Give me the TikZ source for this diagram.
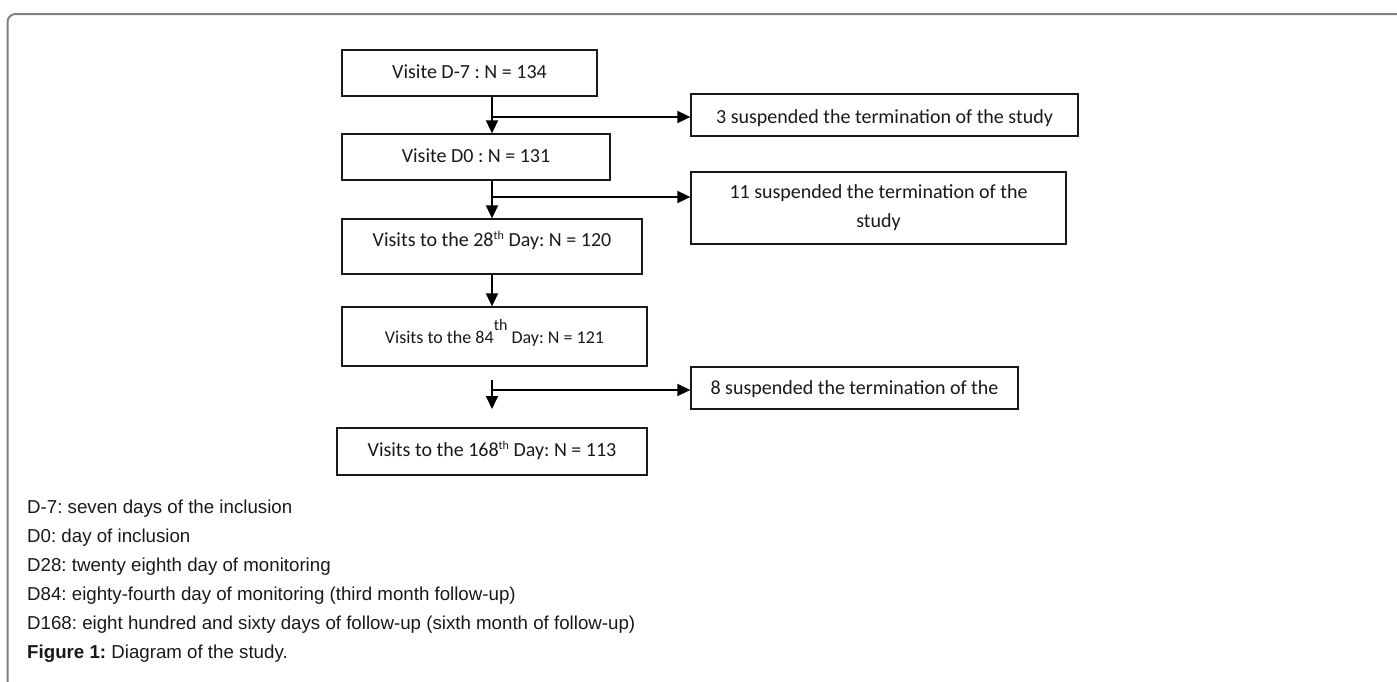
\documentclass[tikz,border=0pt]{standalone}
\usepackage{fontspec}
\setmainfont{Carlito}
\newfontfamily\legendfont{Liberation Sans}
\usetikzlibrary{arrows.meta}
\frenchspacing
\tikzset{
  box/.style={draw=black!90, line width=1.3pt, inner sep=0pt, align=center,
    font=\fontsize{20}{29}\selectfont, text=black!90, text height=14pt, text depth=4pt},
  arr/.style={draw=black, line width=1.7pt, -{Triangle[length=13pt,width=12pt]}},
  legend/.style={anchor=base west, inner sep=0pt, font=\legendfont\fontsize{18.7}{18.7}\selectfont, text=black!90},
  frame/.style={draw=black!50, line width=2pt, rounded corners=8pt}
}
\begin{document}
\begin{tikzpicture}[x=1pt,y=-1pt]
\useasboundingbox (0,0) rectangle (1397,681);
\draw[frame] (7.5,690) -- (7.5,14) -- (1400,14);

% main column boxes
\node[box, minimum width=255pt, minimum height=46pt] (b1) at (469.5,73) {Visite D-7 : N = 134};
\node[box, minimum width=268pt, minimum height=46pt] (b2) at (476,157) {Visite D0 : N = 131};
\node[box, minimum width=300pt, minimum height=55pt, text height=14pt, text depth=14pt] (b3) at (492,246.5)
  {Visits to the 28\raisebox{7pt}{\fontsize{12}{12}\selectfont th} Day: N = 120};
\node[box, minimum width=305pt, minimum height=59pt, font=\fontsize{18}{18}\selectfont, text height=16pt, text depth=2.4pt] (b4) at (494.5,336.5)
  {Visits to the 84\smash{\raisebox{13pt}{\fontsize{16}{16}\selectfont th}} Day: N = 121};
\node[box, minimum width=310pt, minimum height=47pt] (b5) at (492,451.5)
  {Visits to the 168\raisebox{7pt}{\fontsize{12}{12}\selectfont th} Day: N = 113};

% side boxes
\node[box, minimum width=387pt, minimum height=42pt, text height=18pt, text depth=1.4pt] (s1) at (884.5,115)
  {3 suspended the termination of the study};
\node[box, minimum width=375pt, minimum height=72pt, text height=42.6pt, text depth=4pt] (s2) at (878.5,208)
  {11 suspended the termination of the\\study};
\node[box, minimum width=327pt, minimum height=42pt, text height=16pt, text depth=3.4pt] (s3) at (854.5,388)
  {8 suspended the termination of the};

% connectors
\coordinate (spine) at (492,0);
\draw[arr] (b1.south -| spine) -- (b2.north -| spine);
\coordinate (j1) at (492,117);
\draw[arr] (j1) -- (j1 -| s1.west);

\draw[arr] (b2.south -| spine) -- (b3.north -| spine);
\coordinate (j2) at (492,197);
\draw[arr] (j2) -- (j2 -| s2.west);

\draw[arr] (b3.south -| spine) -- (b4.north -| spine);

\coordinate (t4) at (492,380);
\coordinate (e4) at (492,409);
\draw[arr] (t4) -- (e4);
\coordinate (j4) at (492,390);
\draw[arr] (j4) -- (j4 -| s3.west);

% legend
\node[legend] (l1) at (27,513.5) {D-7: seven days of the inclusion};
\node[legend] (l2) at (27,542.5) {D0: day of inclusion};
\node[legend] (l3) at (27,571.5) {D28: twenty eighth day of monitoring};
\node[legend] (l4) at (27,600.5) {D84: eighty-fourth day of monitoring (third month follow-up)};
\node[legend] (l5) at (27,629.5) {D168: eight hundred and sixty days of follow-up (sixth month of follow-up)};
\node[legend] (l6) at (27,658.5) {\textbf{Figure 1:} Diagram of the study.};
\end{tikzpicture}
\end{document}
